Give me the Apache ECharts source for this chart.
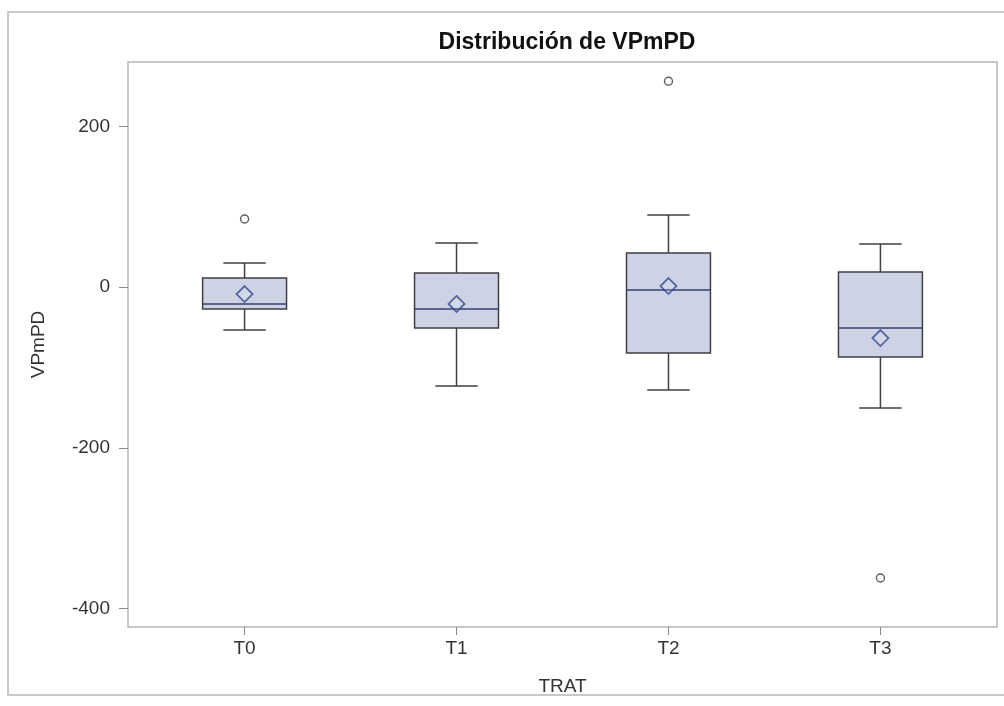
<!DOCTYPE html>
<html>
<head>
<meta charset="utf-8">
<title>Distribución de VPmPD</title>
<script src="https://cdn.jsdelivr.net/npm/echarts@6/dist/echarts.min.js"></script>
<style>
  html, body { margin: 0; padding: 0; background: #ffffff; }
  #chart { width: 1004px; height: 706px; }
</style>
</head>
<body>
<div id="chart"></div>
<script>
// Treatment groups
const categories = ['T0', 'T1', 'T2', 'T3'];

// Five-number summaries per treatment (whisker ends, quartiles, median)
const whiskerLow  = [-53.5, -123, -128, -150.5];
const q1          = [-27.4, -51, -82, -87];
const median      = [-21, -27.4, -3.7, -51];
const q3          = [11.2, 17.4, 42.3, 18.7];
const whiskerHigh = [29.9, 54.7, 89.6, 53.5];

// Group means
const means = [-8.7, -21, 1.2, -63.5];

// Outlying observations: [group index, value]
const outliers = [[0, 84.6], [2, 256], [3, -362]];

// Y axis tick values
const yTicks = [-400, -200, 0, 200];
const xTicks = categories.map((c, i) => i);

const boxRows = categories.map((c, i) => [i, whiskerLow[i], q1[i], median[i], q3[i], whiskerHigh[i]]);
const meanRows = means.map((m, i) => [i, m]);

const BOX_FILL = '#cdd3e5';
const BOX_EDGE = '#3f3f46';
const MEDIAN_COLOR = '#35426e';
const FONT = 'Liberation Sans, Arial, sans-serif';

function renderBox(params, api) {
  const x = api.value(0);
  const pLow = api.coord([x, api.value(1)]);
  const pQ1 = api.coord([x, api.value(2)]);
  const pMed = api.coord([x, api.value(3)]);
  const pQ3 = api.coord([x, api.value(4)]);
  const pHigh = api.coord([x, api.value(5)]);
  const unit = api.size([1, 0])[0];
  const bw = unit * 0.396;
  const cw = unit * 0.2;
  const cx = pMed[0];
  const lineStyle = { stroke: BOX_EDGE, lineWidth: 1.5 };
  return {
    type: 'group',
    children: [
      { type: 'line', shape: { x1: cx, y1: pQ3[1], x2: cx, y2: pHigh[1] }, style: lineStyle },
      { type: 'line', shape: { x1: cx, y1: pQ1[1], x2: cx, y2: pLow[1] }, style: lineStyle },
      { type: 'line', shape: { x1: cx - cw / 2, y1: pHigh[1], x2: cx + cw / 2, y2: pHigh[1] }, style: lineStyle },
      { type: 'line', shape: { x1: cx - cw / 2, y1: pLow[1], x2: cx + cw / 2, y2: pLow[1] }, style: lineStyle },
      {
        type: 'rect',
        shape: { x: cx - bw / 2, y: pQ3[1], width: bw, height: pQ1[1] - pQ3[1] },
        style: { fill: BOX_FILL, stroke: BOX_EDGE, lineWidth: 1.5 }
      },
      { type: 'line', shape: { x1: cx - bw / 2, y1: pMed[1], x2: cx + bw / 2, y2: pMed[1] }, style: { stroke: MEDIAN_COLOR, lineWidth: 1.5 } }
    ]
  };
}

const chart = echarts.init(document.getElementById('chart'), null, { renderer: 'canvas' });

chart.setOption({
  backgroundColor: '#ffffff',
  animation: false,
  title: {
    text: 'Distribución de VPmPD',
    left: 562,
    top: 26,
    textAlign: 'center',
    textStyle: { fontFamily: FONT, fontSize: 23, fontWeight: 'bold', color: '#111111' }
  },
  graphic: [{
    type: 'rect',
    shape: { x: 8, y: 12, width: 1010, height: 683 },
    style: { fill: 'none', stroke: '#c9c9c9', lineWidth: 2 },
    silent: true,
    z: -1
  }],
  grid: {
    left: 128, right: 7, top: 62, bottom: 79,
    show: true,
    borderColor: '#b5b5b5',
    borderWidth: 1.5,
    backgroundColor: 'transparent'
  },
  xAxis: {
    type: 'value',
    min: -0.55,
    max: 3.55,
    position: 'bottom',
    name: 'TRAT',
    nameLocation: 'middle',
    nameGap: 50,
    nameTextStyle: { fontFamily: FONT, fontSize: 19, color: '#333333' },
    axisLine: { show: false, onZero: false },
    axisTick: { show: true, length: 8, customValues: xTicks, lineStyle: { color: '#888888' } },
    axisLabel: {
      customValues: xTicks,
      formatter: (v) => categories[Math.round(v)],
      margin: 12,
      fontFamily: FONT, fontSize: 19, color: '#333333'
    },
    splitLine: { show: false }
  },
  yAxis: {
    type: 'value',
    min: -423,
    max: 280,
    position: 'left',
    name: 'VPmPD',
    nameLocation: 'middle',
    nameGap: 80,
    nameTextStyle: { fontFamily: FONT, fontSize: 19, color: '#333333' },
    axisLine: { show: false, onZero: false },
    axisTick: { show: true, length: 9, customValues: yTicks, lineStyle: { color: '#888888' } },
    axisLabel: {
      customValues: yTicks,
      margin: 18,
      fontFamily: FONT, fontSize: 19, color: '#333333'
    },
    splitLine: { show: false }
  },
  series: [
    {
      type: 'custom',
      name: 'VPmPD',
      renderItem: renderBox,
      data: boxRows,
      encode: { x: 0, y: [1, 2, 3, 4, 5] },
      z: 2
    },
    {
      type: 'scatter',
      name: 'Media',
      data: meanRows,
      symbol: 'diamond',
      symbolSize: [16, 16],
      itemStyle: { color: 'rgba(255,255,255,0.15)', borderColor: '#33478c', borderWidth: 1.8 },
      z: 4
    },
    {
      type: 'scatter',
      name: 'Atípicos',
      data: outliers,
      symbol: 'circle',
      symbolSize: 8,
      itemStyle: { color: 'rgba(255,255,255,0)', borderColor: '#333333', borderWidth: 1.4 },
      z: 4
    }
  ]
});
</script>
</body>
</html>
